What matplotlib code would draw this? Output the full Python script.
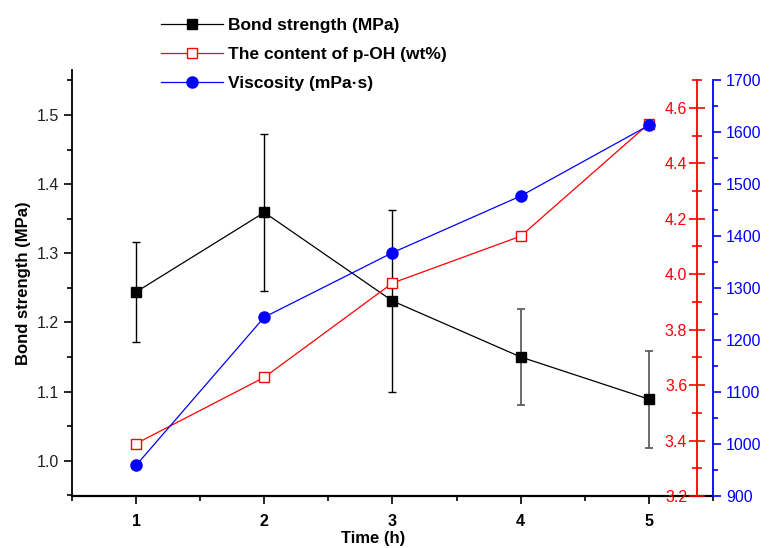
import matplotlib
matplotlib.use('Agg')
import matplotlib.pyplot as plt
from matplotlib.ticker import MultipleLocator

plt.rcParams['font.family'] = ['Liberation Sans', 'DejaVu Sans']

# data
time_h = [1, 2, 3, 4, 5]
bond = [1.244, 1.359, 1.231, 1.150, 1.089]
bond_err = [0.072, 0.113, 0.132, 0.070, 0.070]
p_oh = [3.389, 3.628, 3.968, 4.137, 4.543]
viscosity = [959, 1244, 1368, 1477, 1613]

fig = plt.figure(figsize=(7.69, 5.48), dpi=100)

# main axes (bond strength) - a bit taller than the right axes
ax = fig.add_axes([0.0936, 0.0949, 0.8336, 0.7774])
ax.set_xlim(0.5, 5.5)
ax.set_ylim(0.949, 1.565)
for s in ['top', 'right']:
    ax.spines[s].set_visible(False)
ax.spines['left'].set_linewidth(1.3)
ax.spines['bottom'].set_linewidth(1.6)

# error bars: first three black, last two grey
ax.errorbar(time_h[:3], bond[:3], yerr=bond_err[:3], fmt='none',
            ecolor='black', elinewidth=1, capsize=3, capthick=1, zorder=2)
ax.errorbar(time_h[3:], bond[3:], yerr=bond_err[3:], fmt='none',
            ecolor='#606060', elinewidth=1.3, capsize=3, capthick=1.3, zorder=2)
l1, = ax.plot(time_h, bond, color='black', lw=0.9, marker='s', ms=7,
              mfc='black', mec='black', zorder=3)

ax.xaxis.set_major_locator(MultipleLocator(1))
ax.xaxis.set_minor_locator(MultipleLocator(0.5))
ax.yaxis.set_major_locator(MultipleLocator(0.1))
ax.yaxis.set_minor_locator(MultipleLocator(0.05))
ax.tick_params(axis='both', which='major', direction='out', length=6, width=1.2)
ax.tick_params(axis='both', which='minor', direction='out', length=3.5, width=1.2)
ax.tick_params(axis='y', labelsize=11.5, labelcolor='#222222')
ax.tick_params(axis='x', labelsize=11.5, pad=7)
for lab in ax.get_xticklabels():
    lab.set_fontweight('bold')
ax.set_ylabel('Bond strength (MPa)', fontsize=12, fontweight='bold', labelpad=4)
ax.set_xlabel('Time (h)', fontsize=12, fontweight='bold')
ax.xaxis.set_label_coords(0.47, -0.082)

# red axis (p-OH content), spine drawn inside the frame
axr = fig.add_axes([0.0936, 0.0949, 0.8336, 0.759])
axr.patch.set_visible(False)
axr.set_xlim(0.5, 5.5)
axr.set_ylim(3.2, 4.7)
for s in ['top', 'right', 'bottom']:
    axr.spines[s].set_visible(False)
axr.spines['left'].set_position(('axes', 0.975))
axr.spines['left'].set_color('red')
axr.spines['left'].set_linewidth(1.3)
axr.set_xticks([])
axr.yaxis.set_major_locator(MultipleLocator(0.2))
axr.yaxis.set_minor_locator(MultipleLocator(0.1))
axr.tick_params(axis='y', which='major', direction='inout', length=12, width=1.2,
                color='red', labelcolor='red', labelsize=11.5, pad=1)
axr.tick_params(axis='y', which='minor', direction='inout', length=7, width=1.2,
                color='red')
axr.yaxis.set_major_formatter(plt.FormatStrFormatter('%.1f'))
l2, = axr.plot(time_h, p_oh, color='red', lw=0.9, marker='s', ms=7,
               mfc='white', mec='red', mew=1)

# blue axis (viscosity)
axb = fig.add_axes([0.0936, 0.0949, 0.8336, 0.759])
axb.patch.set_visible(False)
axb.set_xlim(0.5, 5.5)
axb.set_ylim(900, 1700)
for s in ['top', 'left', 'bottom']:
    axb.spines[s].set_visible(False)
axb.spines['right'].set_color('blue')
axb.spines['right'].set_linewidth(1.3)
axb.set_xticks([])
axb.yaxis.tick_right()
axb.yaxis.set_major_locator(MultipleLocator(100))
axb.yaxis.set_minor_locator(MultipleLocator(50))
axb.tick_params(axis='y', which='major', direction='out', length=6, width=1.2,
                color='blue', labelcolor='blue', labelsize=11.5)
axb.tick_params(axis='y', which='minor', direction='out', length=3.5, width=1.2,
                color='blue')
l3, = axb.plot(time_h, viscosity, color='blue', lw=0.9, marker='o', ms=8,
               mfc='blue', mec='blue')

fig.legend([l1, l2, l3],
           ['Bond strength (MPa)', 'The content of p-OH (wt%)', 'Viscosity (mPa\u00b7s)'],
           loc='upper left', bbox_to_anchor=(0.193, 0.99), frameon=False,
           prop={'weight': 'bold', 'size': 12.5}, handlelength=3.6,
           handletextpad=0.3, labelspacing=0.8, borderpad=0.2)

fig.savefig('out.png', dpi=100)
